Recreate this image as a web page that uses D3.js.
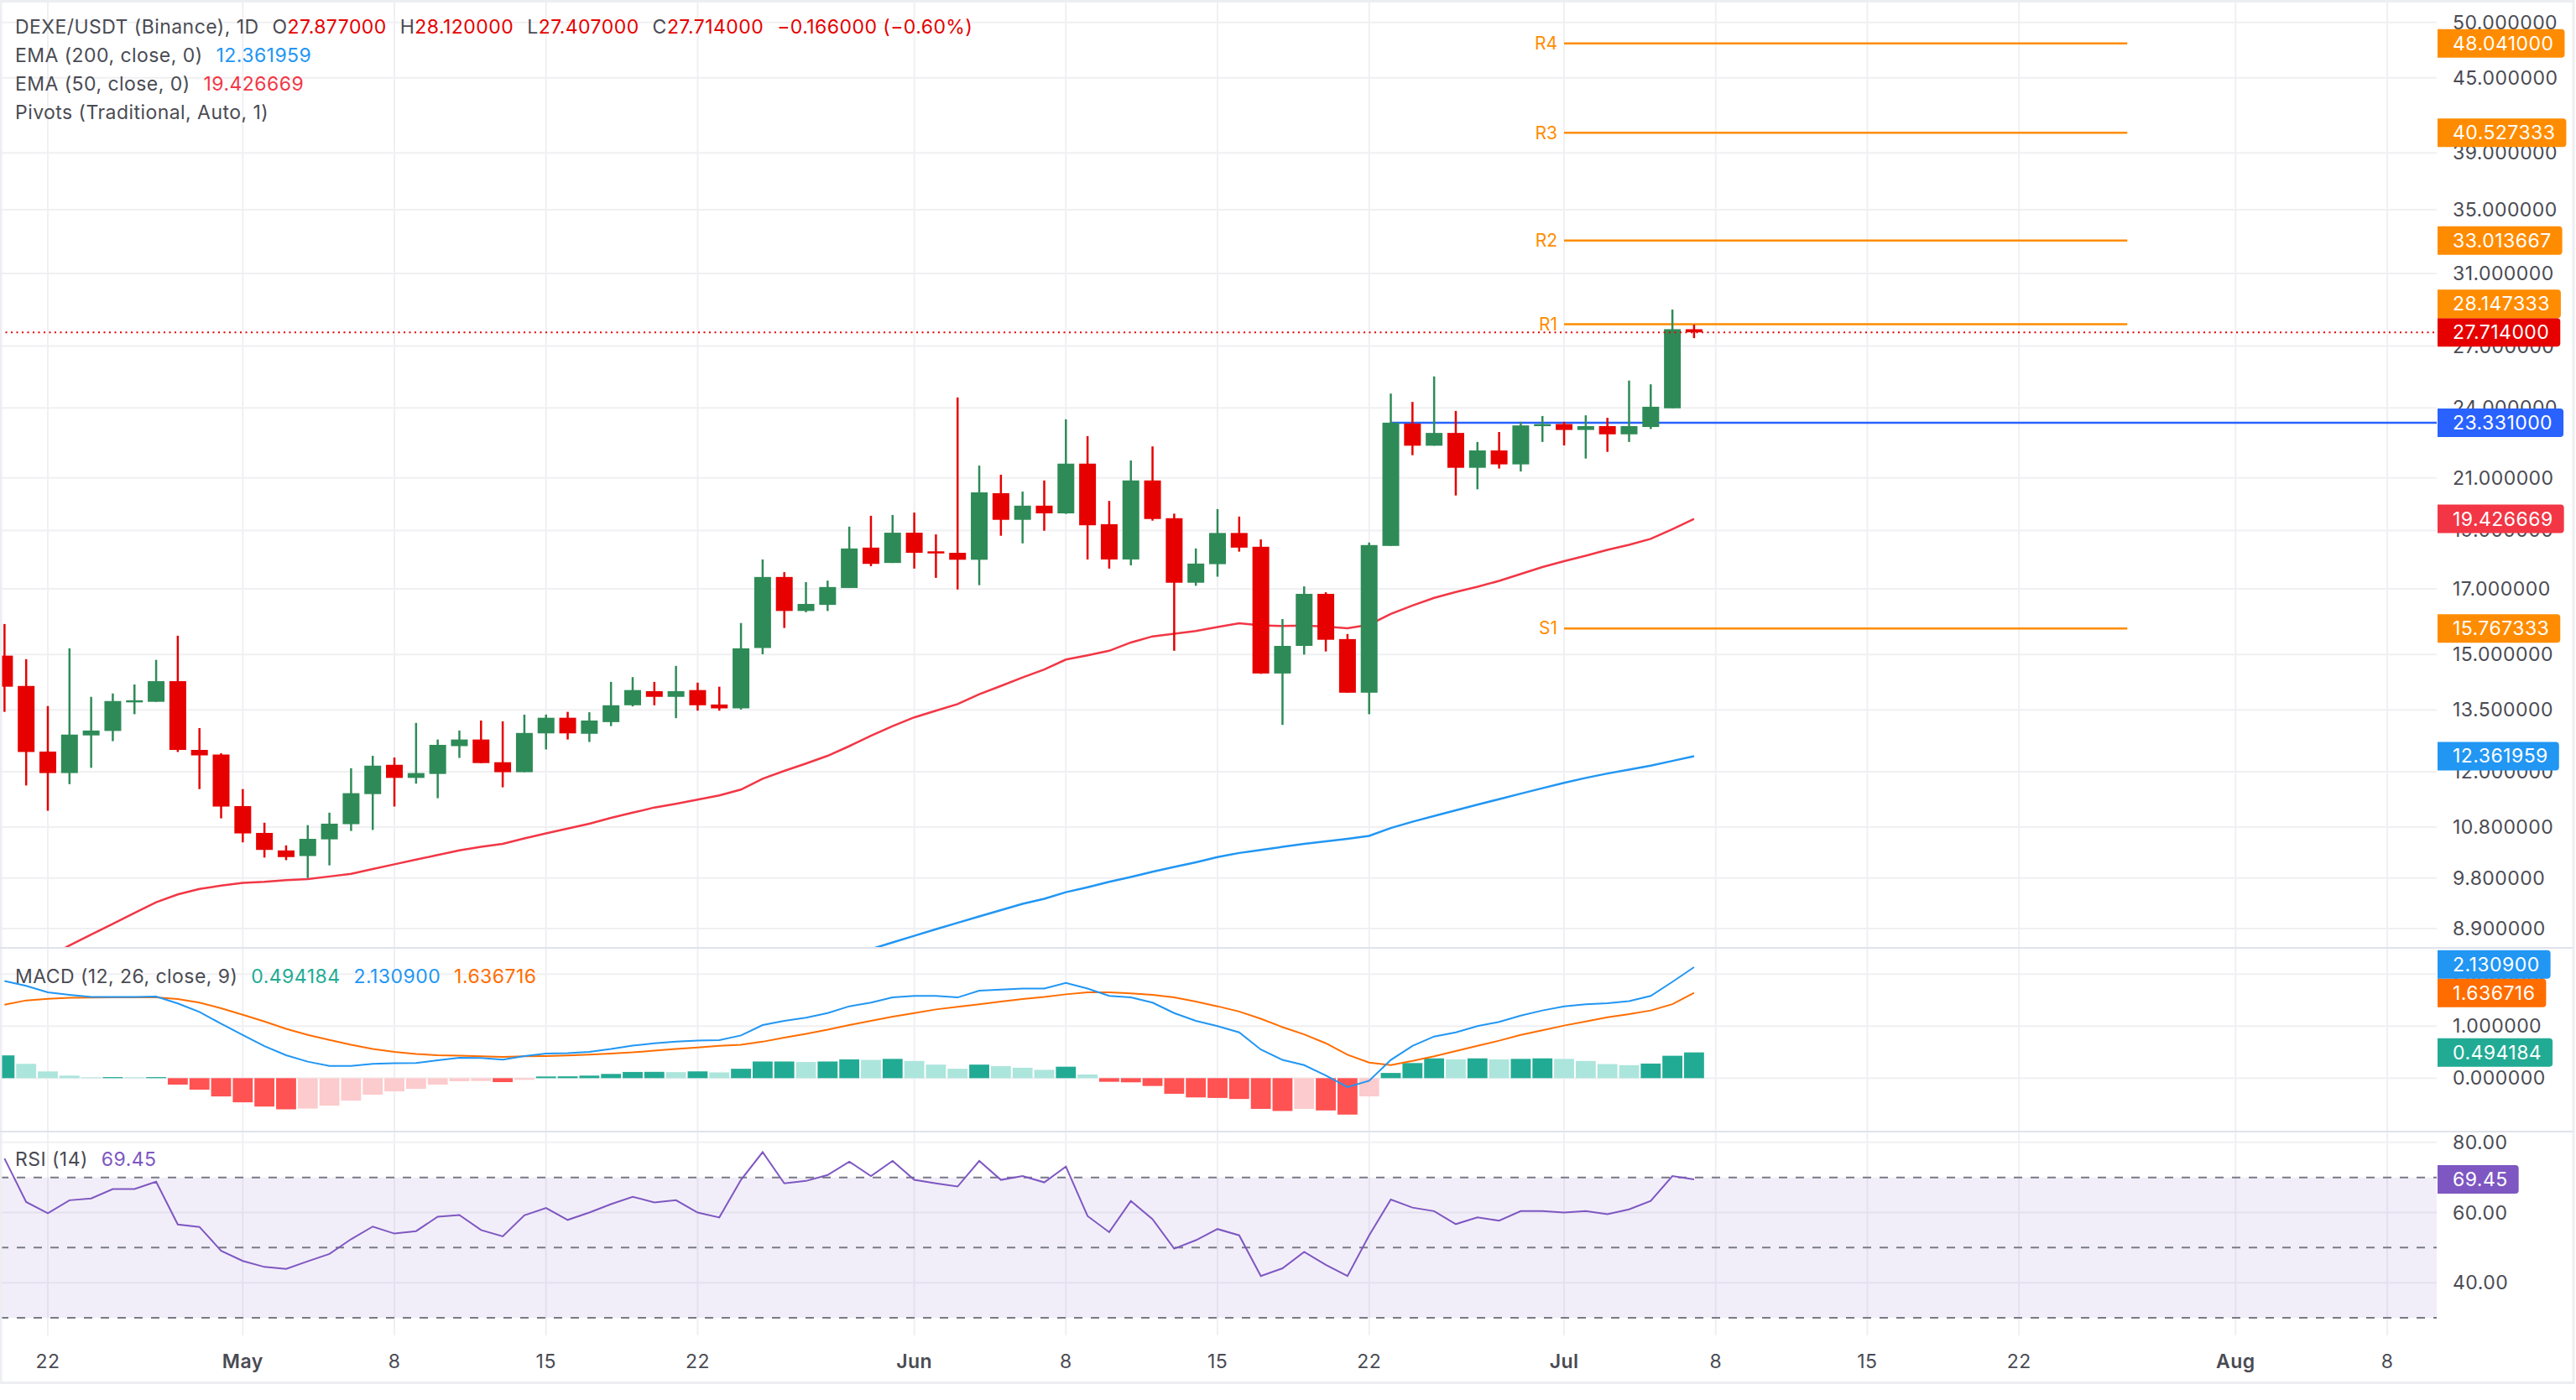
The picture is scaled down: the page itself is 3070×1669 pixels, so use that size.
<!DOCTYPE html>
<html>
<head>
<meta charset="utf-8">
<title>DEXE/USDT 1D</title>
<script src="https://cdn.jsdelivr.net/npm/d3@7"></script>
<style>
  html, body { margin: 0; padding: 0; background: #ffffff; }
  svg { display: block; }
  text { font-family: Inter, "Noto Sans", Roboto, sans-serif; letter-spacing: 0.45px; }
</style>
</head>
<body>
<div id="chart"></div>
<script>
// ---- values (daily bars, 20 Apr -> 7 Jul) ----
const firstDay = "2025-04-20";

const opens = [14.97, 14.13, 12.47, 11.97, 12.86, 12.97, 13.71, 13.71, 14.26, 12.51,
  12.40, 11.24, 10.68, 10.33, 10.22, 10.55, 10.86, 11.50, 12.16, 11.86,
  11.95, 12.60, 12.76, 12.22, 11.99, 12.91, 13.30, 12.90, 13.19, 13.62,
  13.99, 13.84, 14.02, 13.64, 13.54, 15.19, 17.39, 16.30, 16.49, 17.03,
  18.39, 17.86, 18.92, 18.26, 18.21, 17.97, 20.40, 19.39, 19.92, 19.63,
  21.58, 19.23, 17.98, 20.90, 19.45, 17.20, 17.82, 18.91, 18.42, 14.47,
  15.25, 16.84, 15.45, 13.95, 18.45, 23.29, 22.33, 22.88, 21.41, 22.13,
  21.55, 23.21, 23.27, 23.01, 23.18, 22.82, 23.14, 23.98, 27.877];

const highs = [15.90, 14.87, 13.60, 15.18, 13.84, 13.93, 14.17, 14.85, 15.55, 13.04,
  12.43, 11.61, 10.89, 10.43, 10.84, 11.10, 12.08, 12.37, 12.33, 13.17,
  12.76, 12.98, 13.23, 13.21, 13.38, 13.38, 13.45, 13.44, 14.24, 14.37,
  14.24, 14.68, 14.22, 14.11, 15.93, 17.98, 17.55, 17.22, 17.27, 19.14,
  19.54, 19.57, 19.66, 18.86, 24.48, 21.50, 21.13, 20.46, 20.90, 23.48,
  22.74, 20.10, 21.71, 22.30, 19.62, 18.36, 19.79, 19.51, 18.68, 16.05,
  17.08, 16.89, 15.60, 18.57, 24.66, 24.27, 25.48, 23.86, 22.49, 22.92,
  23.37, 23.63, 23.37, 23.66, 23.55, 25.28, 25.10, 28.94, 28.12];

const lows = [13.45, 11.69, 11.14, 11.72, 12.09, 12.72, 13.39, 13.71, 12.46, 11.61,
  10.98, 10.49, 10.19, 10.14, 9.80, 10.04, 10.72, 10.74, 11.23, 11.73,
  11.41, 12.32, 12.20, 11.65, 11.99, 12.52, 12.76, 12.70, 13.09, 13.59,
  13.62, 13.29, 13.48, 13.48, 13.51, 15.01, 15.78, 16.26, 16.30, 17.03,
  17.75, 17.86, 17.67, 17.36, 16.98, 17.12, 18.81, 18.54, 18.99, 19.61,
  17.98, 17.67, 17.78, 19.36, 15.11, 17.10, 17.40, 18.25, 14.46, 13.12,
  15.00, 15.09, 13.95, 13.39, 18.45, 21.93, 22.33, 20.31, 20.55, 21.38,
  21.26, 22.49, 22.34, 21.79, 22.07, 22.49, 23.05, 23.98, 27.407];

const closes = [14.11, 12.46, 11.97, 12.88, 12.98, 13.73, 13.75, 14.26, 12.51, 12.38,
  11.23, 10.67, 10.34, 10.20, 10.56, 10.87, 11.52, 12.14, 11.86, 11.97,
  12.63, 12.76, 12.20, 11.99, 12.92, 13.30, 12.91, 13.23, 13.62, 14.02,
  13.84, 13.99, 13.62, 13.54, 15.18, 17.39, 16.30, 16.52, 17.06, 18.36,
  17.83, 18.92, 18.21, 18.20, 17.97, 20.43, 19.39, 19.92, 19.63, 21.58,
  19.19, 17.98, 20.90, 19.42, 17.20, 17.84, 18.91, 18.39, 14.47, 15.25,
  16.84, 15.43, 13.95, 18.48, 23.331, 22.33, 22.88, 21.41, 22.13, 21.55,
  23.21, 23.27, 23.01, 23.18, 22.82, 23.18, 24.05, 27.88, 27.714];

const ema50 = [8.05, 8.24, 8.43, 8.62, 8.80, 8.98, 9.17, 9.36, 9.50, 9.60,
  9.66, 9.71, 9.73, 9.76, 9.78, 9.83, 9.88, 9.97, 10.06, 10.15,
  10.24, 10.33, 10.40, 10.46, 10.57, 10.67, 10.77, 10.87, 10.99, 11.10,
  11.21, 11.29, 11.38, 11.47, 11.60, 11.84, 12.02, 12.19, 12.37, 12.60,
  12.85, 13.09, 13.31, 13.48, 13.65, 13.91, 14.13, 14.36, 14.58, 14.86,
  14.98, 15.11, 15.35, 15.53, 15.61, 15.69, 15.81, 15.92, 15.86, 15.84,
  15.85, 15.82, 15.77, 15.88, 16.21, 16.47, 16.71, 16.90, 17.07, 17.26,
  17.49, 17.72, 17.92, 18.11, 18.31, 18.49, 18.70, 19.05, 19.426669];

// EMA 200 only comes into the pane from bar 38 on
const ema200Start = 38;
const ema200 = [8.34, 8.45, 8.56, 8.67, 8.78, 8.89, 9.00, 9.11, 9.22, 9.33,
  9.42, 9.54, 9.63, 9.73, 9.82, 9.92, 10.01, 10.10, 10.20, 10.28,
  10.34, 10.40, 10.46, 10.51, 10.56, 10.62, 10.78, 10.91, 11.03, 11.15,
  11.27, 11.39, 11.51, 11.63, 11.75, 11.86, 11.96, 12.05, 12.14, 12.25, 12.361959];

const macdLine = [1.865, 1.773, 1.649, 1.601, 1.558, 1.558, 1.558, 1.568, 1.434, 1.272,
  1.045, 0.830, 0.614, 0.441, 0.317, 0.236, 0.236, 0.274, 0.285, 0.290,
  0.344, 0.393, 0.387, 0.355, 0.425, 0.474, 0.479, 0.506, 0.560, 0.625,
  0.668, 0.70, 0.72, 0.73, 0.82, 1.02, 1.10, 1.16, 1.25, 1.38,
  1.45, 1.55, 1.58, 1.58, 1.55, 1.68, 1.70, 1.72, 1.72, 1.83,
  1.72, 1.58, 1.55, 1.45, 1.25, 1.10, 1.00, 0.88, 0.55, 0.35,
  0.25, 0.05, -0.17, -0.05, 0.35, 0.62, 0.80, 0.88, 1.00, 1.08,
  1.20, 1.30, 1.38, 1.42, 1.44, 1.48, 1.58, 1.85, 2.1309];

const signalLine = [1.412, 1.493, 1.525, 1.542, 1.547, 1.552, 1.552, 1.552, 1.520, 1.450,
  1.342, 1.218, 1.088, 0.948, 0.830, 0.733, 0.641, 0.560, 0.506, 0.463,
  0.441, 0.430, 0.420, 0.409, 0.420, 0.425, 0.436, 0.452, 0.474, 0.495,
  0.528, 0.56, 0.59, 0.62, 0.64, 0.70, 0.78, 0.85, 0.93, 1.02,
  1.10, 1.18, 1.25, 1.32, 1.37, 1.42, 1.47, 1.52, 1.56, 1.61,
  1.65, 1.65, 1.63, 1.60, 1.55, 1.47, 1.38, 1.28, 1.14, 0.98,
  0.84, 0.67, 0.45, 0.30, 0.25, 0.33, 0.42, 0.52, 0.62, 0.72,
  0.83, 0.92, 1.01, 1.09, 1.17, 1.23, 1.30, 1.42, 1.636716];

const macdHist = [0.437, 0.275, 0.129, 0.049, 0.015, 0.020, 0.015, 0.020, -0.124, -0.221,
  -0.351, -0.464, -0.545, -0.599, -0.583, -0.529, -0.432, -0.318, -0.254, -0.205,
  -0.124, -0.059, -0.054, -0.076, -0.032, 0.032, 0.035, 0.049, 0.081, 0.119,
  0.121, 0.115, 0.13, 0.11, 0.18, 0.32, 0.32, 0.31, 0.32, 0.36,
  0.35, 0.37, 0.33, 0.26, 0.18, 0.26, 0.23, 0.20, 0.16, 0.22,
  0.07, -0.07, -0.08, -0.15, -0.30, -0.37, -0.38, -0.40, -0.59, -0.63,
  -0.59, -0.62, -0.70, -0.35, 0.10, 0.29, 0.38, 0.36, 0.38, 0.36,
  0.37, 0.38, 0.37, 0.33, 0.27, 0.25, 0.28, 0.43, 0.494184];

const rsi14 = [75.4, 63.0, 59.8, 63.5, 64.0, 66.7, 66.7, 68.8, 56.6, 55.9,
  49.1, 46.2, 44.5, 43.95, 46.1, 48.2, 52.4, 56.0, 54.0, 54.7,
  58.8, 59.3, 55.0, 53.2, 59.2, 61.3, 57.9, 60.0, 62.4, 64.5,
  62.9, 63.5, 60.0, 58.6, 69.3, 77.2, 68.3, 69.0, 70.7, 74.5,
  70.4, 74.7, 69.3, 68.3, 67.4, 74.7, 69.3, 70.4, 68.6, 73.1,
  59.0, 54.4, 63.3, 58.1, 49.7, 52.1, 55.3, 53.5, 41.9, 44.1,
  48.8, 45.1, 41.9, 53.5, 63.7, 61.4, 60.4, 56.7, 58.6, 57.7,
  60.4, 60.4, 60.0, 60.4, 59.5, 60.9, 63.3, 70.4, 69.45];

const pivotNames = ["R4", "R3", "R2", "R1", "S1"];
const pivotValues = [48.041, 40.527333, 33.013667, 28.147333, 15.767333];
const pivotFrom = "2025-07-01", pivotTo = "2025-07-27";

const levelValue = 23.331, levelFrom = "2025-06-23";   // horizontal ray

const priceTicks = [50, 45, 39, 35, 31, 27, 24, 21, 19, 17, 15, 13.5, 12, 10.8, 9.8, 8.9];
const macdTicks = [2, 1, 0];
const rsiTicks = [80, 60, 40];
const rsiLevels = [70, 50, 30];
const dateTicks = ["2025-04-22", "2025-05-01", "2025-05-08", "2025-05-15", "2025-05-22",
  "2025-06-01", "2025-06-08", "2025-06-15", "2025-06-22", "2025-07-01", "2025-07-08",
  "2025-07-15", "2025-07-22", "2025-08-01", "2025-08-08"];

// ---- layout ----
const width = 3070, height = 1669;
const plotRight = 2904, axisX = 2923, frameRight = 3067;
const mainPane = [0, 1130], macdPane = [1130, 1349], rsiPane = [1349, 1592];
const fontSize = 23;
const upColor = "#2e8b57", downColor = "#e60000";
const textColor = "#4a4b53", gridColor = "#f0f0f3", sepColor = "#e0e3eb";

const parseDay = d3.utcParse("%Y-%m-%d");
const fmt6 = d3.format(".6f"), fmt2 = d3.format(".2f");

const days = d3.utcDay.range(parseDay(firstDay), d3.utcDay.offset(parseDay(firstDay), opens.length));
const bars = days.map((d, i) => ({
  date: d, open: opens[i], high: highs[i], low: lows[i], close: closes[i],
  ema50: ema50[i], ema200: i >= ema200Start ? ema200[i - ema200Start] : null,
  macd: macdLine[i], signal: signalLine[i], hist: macdHist[i], rsi: rsi14[i]
}));

const x = d3.scaleUtc()
  .domain([parseDay("2025-04-22"), parseDay("2025-08-08")])
  .range([57, 2845]);
const step = x(days[1]) - x(days[0]);

const y = d3.scaleLog().domain([8.58, 52.19]).range([mainPane[1], mainPane[0]]);
const yMacd = d3.scaleLinear().domain([-1.026, 2.502]).range([macdPane[1], macdPane[0]]);
const yRsi = d3.scaleLinear().domain([24.98, 83.07]).range([rsiPane[1], rsiPane[0]]);

const svg = d3.select("#chart").append("svg")
  .attr("width", width)
  .attr("height", height)
  .style("font-size", fontSize + "px");

const defs = svg.append("defs");
[["clipMain", mainPane], ["clipMacd", macdPane], ["clipRsi", rsiPane]].forEach(([id, p]) => {
  defs.append("clipPath").attr("id", id)
    .append("rect").attr("x", 0).attr("y", p[0]).attr("width", plotRight).attr("height", p[1] - p[0]);
});

// ---- grid ----
const grid = svg.append("g");
grid.selectAll(".vgrid").data(dateTicks).join("line")
  .attr("x1", d => x(parseDay(d))).attr("x2", d => x(parseDay(d)))
  .attr("y1", 0).attr("y2", rsiPane[1])
  .attr("stroke", gridColor).attr("stroke-width", 2);

function hGrid(ticks, scale) {
  grid.selectAll(null).data(ticks).join("line")
    .attr("x1", 0).attr("x2", plotRight)
    .attr("y1", d => scale(d)).attr("y2", d => scale(d))
    .attr("stroke", gridColor).attr("stroke-width", 2);
}
hGrid(priceTicks, y);
hGrid(macdTicks, yMacd);
hGrid(rsiTicks, yRsi);

// ---- main pane ----
const main = svg.append("g").attr("clip-path", "url(#clipMain)");

// pivots
const pivots = pivotNames.map((n, i) => ({ name: n, value: pivotValues[i] }));
main.selectAll(".pivot").data(pivots).join("line")
  .attr("x1", x(parseDay(pivotFrom))).attr("x2", x(parseDay(pivotTo)))
  .attr("y1", d => y(d.value)).attr("y2", d => y(d.value))
  .attr("stroke", "#ff8c00").attr("stroke-width", 2.5);
main.selectAll(".pivotLabel").data(pivots).join("text")
  .attr("x", x(parseDay(pivotFrom)) - 8)
  .attr("y", d => y(d.value))
  .attr("dy", "0.35em")
  .attr("text-anchor", "end")
  .attr("fill", "#ff8c00")
  .style("font-size", "21px")
  .style("letter-spacing", "0px")
  .text(d => d.name);

// horizontal ray from the 23 Jun close
main.append("line")
  .attr("x1", x(parseDay(levelFrom))).attr("x2", plotRight)
  .attr("y1", y(levelValue)).attr("y2", y(levelValue))
  .attr("stroke", "#2962ff").attr("stroke-width", 2.5);

// emas
const emaLine = key => d3.line()
  .defined(d => d[key] != null)
  .x(d => x(d.date))
  .y(d => y(d[key]));
main.append("path").datum(bars)
  .attr("d", emaLine("ema200"))
  .attr("fill", "none").attr("stroke", "#2196f3").attr("stroke-width", 2.5);
main.append("path").datum(bars)
  .attr("d", emaLine("ema50"))
  .attr("fill", "none").attr("stroke", "#f23645").attr("stroke-width", 2.5);

// candles
const bodyW = 20;
const candle = main.selectAll(".candle").data(bars).join("g")
  .attr("fill", d => d.close >= d.open ? upColor : downColor)
  .attr("stroke", d => d.close >= d.open ? upColor : downColor);
candle.append("line")
  .attr("x1", d => x(d.date)).attr("x2", d => x(d.date))
  .attr("y1", d => y(d.high)).attr("y2", d => y(d.low))
  .attr("stroke-width", 2.5);
candle.append("rect")
  .attr("stroke", "none")
  .attr("x", d => x(d.date) - bodyW / 2)
  .attr("width", bodyW)
  .attr("y", d => y(Math.max(d.open, d.close)))
  .attr("height", d => Math.max(2.5, Math.abs(y(d.open) - y(d.close))));

const last = bars[bars.length - 1], prev = bars[bars.length - 2];

// last price dotted line
main.append("line")
  .attr("x1", 0).attr("x2", plotRight)
  .attr("y1", y(last.close)).attr("y2", y(last.close))
  .attr("stroke", downColor).attr("stroke-width", 2)
  .attr("stroke-dasharray", "2,4.5");

// ---- MACD pane ----
const macdG = svg.append("g").attr("clip-path", "url(#clipMacd)");
macdG.selectAll(".hist").data(bars).join("rect")
  .attr("x", d => x(d.date) - step / 2 + 1)
  .attr("width", step - 2)
  .attr("y", d => Math.min(yMacd(0), yMacd(d.hist)))
  .attr("height", d => Math.abs(yMacd(d.hist) - yMacd(0)))
  .attr("fill", (d, i) => {
    const p = i > 0 ? bars[i - 1].hist : d.hist;
    if (d.hist >= 0) return d.hist >= p ? "#22ab94" : "#ace5dc";
    return d.hist < p ? "#ff5252" : "#fccbcd";
  });
const lineOf = (key, scale) => d3.line().x(d => x(d.date)).y(d => scale(d[key]));
macdG.append("path").datum(bars).attr("d", lineOf("signal", yMacd))
  .attr("fill", "none").attr("stroke", "#ff6d00").attr("stroke-width", 2);
macdG.append("path").datum(bars).attr("d", lineOf("macd", yMacd))
  .attr("fill", "none").attr("stroke", "#2196f3").attr("stroke-width", 2);

// ---- RSI pane ----
const rsiG = svg.append("g").attr("clip-path", "url(#clipRsi)");
rsiG.append("rect")
  .attr("x", 0).attr("width", plotRight)
  .attr("y", yRsi(rsiLevels[0])).attr("height", yRsi(rsiLevels[2]) - yRsi(rsiLevels[0]))
  .attr("fill", "#7e57c2").attr("fill-opacity", 0.1);
rsiG.selectAll(".lvl").data(rsiLevels).join("line")
  .attr("x1", 0).attr("x2", plotRight)
  .attr("y1", d => yRsi(d)).attr("y2", d => yRsi(d))
  .attr("stroke", "#787b86").attr("stroke-width", 2).attr("stroke-dasharray", "10,10");
rsiG.append("path").datum(bars).attr("d", lineOf("rsi", yRsi))
  .attr("fill", "none").attr("stroke", "#7e57c2").attr("stroke-width", 2);

// ---- frame and pane separators ----
svg.append("rect")
  .attr("x", 1).attr("y", 1.5).attr("width", frameRight - 1).attr("height", 1647)
  .attr("fill", "none").attr("stroke", "#eceef2").attr("stroke-width", 3);
svg.selectAll(".sep").data([macdPane[0], rsiPane[0]]).join("line")
  .attr("x1", 0).attr("x2", frameRight)
  .attr("y1", d => d).attr("y2", d => d)
  .attr("stroke", sepColor).attr("stroke-width", 2);

// ---- right axis tick labels ----
function axisLabels(ticks, scale, fmt) {
  svg.append("g").selectAll("text").data(ticks).join("text")
    .attr("x", axisX).attr("y", d => scale(d)).attr("dy", "0.35em")
    .attr("fill", textColor)
    .text(fmt);
}
axisLabels(priceTicks, y, fmt6);
axisLabels(macdTicks, yMacd, fmt6);
axisLabels(rsiTicks, yRsi, fmt2);

// ---- date labels ----
svg.append("g").selectAll("text").data(dateTicks).join("text")
  .attr("x", d => x(parseDay(d)))
  .attr("y", 1623).attr("dy", "0.35em")
  .attr("text-anchor", "middle")
  .attr("fill", textColor)
  .style("font-weight", d => parseDay(d).getUTCDate() === 1 ? 600 : 400)
  .text(d => {
    const t = parseDay(d);
    return t.getUTCDate() === 1 ? d3.utcFormat("%b")(t) : d3.utcFormat("%-d")(t);
  });

// ---- value boxes on the price scale ----
const boxH = 34;
function boxPath(x0, y0, w, h, r) {
  return `M${x0},${y0}H${x0 + w - r}Q${x0 + w},${y0} ${x0 + w},${y0 + r}` +
    `V${y0 + h - r}Q${x0 + w},${y0 + h} ${x0 + w - r},${y0 + h}H${x0}Z`;
}
function drawBoxes(labels) {
  // first label keeps its spot, the others move out of its way
  const placed = [];
  labels.forEach(l => {
    let pos = l.y;
    placed.forEach(p => {
      if (Math.abs(p.pos - pos) < boxH) pos = pos < p.pos ? p.pos - boxH : p.pos + boxH;
    });
    l.pos = pos;
    placed.push(l);
  });
  labels.forEach(l => {
    const g = svg.append("g");
    const path = g.append("path").attr("fill", l.color);
    const t = g.append("text")
      .attr("x", axisX).attr("y", l.pos).attr("dy", "0.35em")
      .attr("fill", "#ffffff")
      .text(l.text);
    const w = axisX - plotRight - 1 + t.node().getComputedTextLength() + 13;
    path.attr("d", boxPath(plotRight + 1, l.pos - boxH / 2, w, boxH, 4));
  });
}

drawBoxes([
  { y: y(last.close), text: fmt6(last.close), color: downColor },
  ...pivots.map(p => ({ y: y(p.value), text: fmt6(p.value), color: "#ff8c00" })),
  { y: y(levelValue), text: fmt6(levelValue), color: "#2962ff" },
  { y: y(last.ema50), text: fmt6(last.ema50), color: "#f23645" },
  { y: y(last.ema200), text: fmt6(last.ema200), color: "#2196f3" }
]);
drawBoxes([
  { y: yMacd(last.signal), text: fmt6(last.signal), color: "#ff6d00" },
  { y: yMacd(last.hist), text: fmt6(last.hist), color: "#22ab94" },
  { y: yMacd(last.macd), text: fmt6(last.macd), color: "#2196f3" }
]);
drawBoxes([
  { y: yRsi(last.rsi), text: fmt2(last.rsi), color: "#7e57c2" }
]);

// ---- legends ----
function legend(yPos, parts) {
  const t = svg.append("text").attr("x", 18).attr("y", yPos).attr("dy", "0.35em").attr("fill", textColor);
  parts.forEach(p => {
    const s = t.append("tspan").text(p.text);
    if (p.gap) s.attr("dx", p.gap);
    if (p.color) s.attr("fill", p.color);
  });
}
const change = last.close - prev.close;
legend(32, [
  { text: "DEXE/USDT (Binance), 1D" },
  { text: "O", gap: 16 }, { text: fmt6(last.open), color: downColor },
  { text: "H", gap: 16 }, { text: fmt6(last.high), color: downColor },
  { text: "L", gap: 16 }, { text: fmt6(last.low), color: downColor },
  { text: "C", gap: 16 }, { text: fmt6(last.close), color: downColor },
  { text: `${fmt6(change)} (${fmt2(change / prev.close * 100)}%)`, gap: 16, color: downColor }
]);
legend(66, [{ text: "EMA (200, close, 0)" }, { text: fmt6(last.ema200), gap: 16, color: "#2196f3" }]);
legend(100, [{ text: "EMA (50, close, 0)" }, { text: fmt6(last.ema50), gap: 16, color: "#f23645" }]);
legend(134, [{ text: "Pivots (Traditional, Auto, 1)" }]);
legend(1164, [
  { text: "MACD (12, 26, close, 9)" },
  { text: fmt6(last.hist), gap: 16, color: "#22ab94" },
  { text: fmt6(last.macd), gap: 16, color: "#2196f3" },
  { text: fmt6(last.signal), gap: 16, color: "#ff6d00" }
]);
legend(1382, [{ text: "RSI (14)" }, { text: fmt2(last.rsi), gap: 16, color: "#7e57c2" }]);
</script>
</body>
</html>
